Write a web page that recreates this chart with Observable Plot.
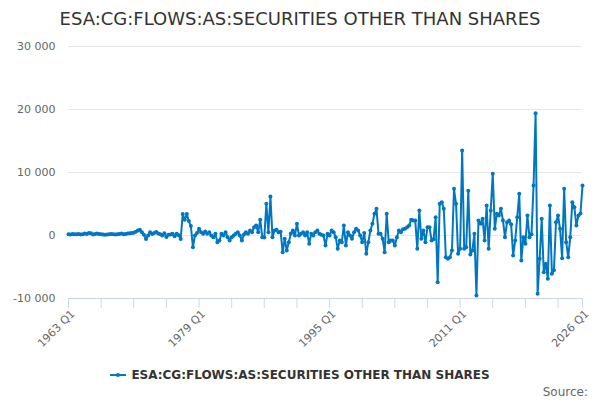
<!DOCTYPE html>
<html>
<head>
<meta charset="utf-8">
<script src="https://cdn.jsdelivr.net/npm/d3@7"></script>
<script src="https://cdn.jsdelivr.net/npm/@observablehq/plot@0.6"></script>
<style>
  html, body { margin: 0; padding: 0; background: #fff; }
  #wrap { position: relative; width: 600px; height: 400px; font-family: "DejaVu Sans", sans-serif; overflow: hidden; }
  #title { position: absolute; top: 10px; left: 0; width: 600px; text-align: center; font-size: 18px; line-height: 18px; color: #333; }
  #chart { position: absolute; top: 0; left: 0; }
  #legend { position: absolute; top: 368px; left: 0; width: 600px; text-align: center; font-size: 12px; line-height: 14px; font-weight: bold; color: #333; white-space: nowrap; }
  #legend svg { vertical-align: middle; margin-right: 5px; position: relative; top: -1px; }
  #source { position: absolute; top: 385px; right: 12px; font-size: 12px; line-height: 14px; color: #666; }
</style>
</head>
<body>
<div id="wrap">
  <div id="title"></div>
  <div id="chart"></div>
  <div id="legend"></div>
  <div id="source"></div>
</div>
<script>
const seriesName = "ESA:CG:FLOWS:AS:SECURITIES OTHER THAN SHARES";
const sourceText = "Source:";
const startYear = 1963;

// Quarterly values, 1963 Q1 ... 2026 Q1
const values = [
  200,150,250,200,180,220,150,200,300,250,400,350,150,250,300,250,200,150,100,150,200,250,200,150,200,250,300,200,250,300,350,400,450,600,
  800,900,500,100,-550,0,500,250,400,550,300,200,0,350,-250,100,160,265,-100,265,50,-550,
  3400,2500,3400,2300,1500,-1850,0,400,1058,529,265,635,265,529,0,-265,265,-1058,-794,265,0,529,-265,-794,-265,0,265,529,0,-794,159,529,265,794,529,1323,1587,529,
  2486,-265,-300,5026,500,6190,-265,794,900,529,600,-2645,-529,-2380,-1058,300,794,0,1852,0,
  265,529,0,529,-1323,265,0,529,794,265,100,0,-1587,265,0,794,529,-265,-2116,-800,-1058,1587,-1587,529,0,-529,529,1058,794,0,-1058,400,-2910,-1058,794,1852,3439,4232,265,265,-500,-2645,3439,
  -1058,-794,-800,-1587,-265,794,529,1000,1058,1323,1587,2486,2380,2380,-2116,3968,
  -529,794,-1058,1323,1323,-794,-600,2910,
  -7407,5026,5291,4232,-3439,-3700,-3439,-2380,7407,5026,-2910,-2116,13500,-2116,-1852,7100,-3000,-2380,265,
  -9522,2380,1852,2645,-794,4761,-2116,3968,9788,1058,
  3439,3174,4232,2400,-265,2116,2380,1800,-3174,-794,2910,6614,-3968,-265,
  -1323,3174,-265,200,7935,19410,
  -9258,-3703,2645,-5819,-4497,-6878,4761,
  -6084,-5500,2116,3174,1058,-3600,7407,-1058,-3439,-265,5291,4497,1587,3174,3500,7935
];

const tickYears = [1963,1967,1971,1975,1979,1983,1987,1991,1995,1999,2003,2007,2011,2015,2019,2023,2026];
const labelYears = [1963,1979,1995,2011,2026];
const tickLabels = ["1963 Q1","1979 Q1","1995 Q1","2011 Q1","2026 Q1"];
const yTicks = [-10000,0,10000,20000,30000];
const gridTicks = [0,10000,20000,30000];

const lineColor = "#0077c0";

const data = values.map((v, i) => ({t: startYear + i / 4, v}));
const labelData = labelYears.map((y, i) => ({t: y, label: tickLabels[i]}));

const fmt = d => (d < 0 ? "-" : "") + String(Math.abs(d)).replace(/\B(?=(\d{3})+(?!\d))/g, " ");

const chart = Plot.plot({
  width: 600,
  height: 360,
  marginTop: 46,
  marginBottom: 62,
  marginLeft: 68,
  marginRight: 18,
  style: {fontFamily: "DejaVu Sans, sans-serif", background: "transparent"},
  x: {domain: [1963, 2026]},
  y: {domain: [-10000, 30000]},
  marks: [
    Plot.gridY(gridTicks, {stroke: "#e6e6e6", strokeOpacity: 1}),
    Plot.ruleY([-10000], {stroke: "#ccd6eb", strokeWidth: 1}),
    Plot.axisX(tickYears, {tickSize: 10, stroke: "#ccd6eb", tickFormat: () => "", label: null}),
    Plot.axisY(yTicks, {tickSize: 0, tickPadding: 13, tickFormat: fmt, fill: "#666", fontSize: 11, label: null}),
    Plot.text(labelData, {x: "t", text: "label", frameAnchor: "bottom", rotate: -45, textAnchor: "end", dx: 7, dy: 16, fill: "#666", fontSize: 11}),
    Plot.line(data, {x: "t", y: "v", stroke: lineColor, strokeWidth: 2}),
    Plot.dot(data, {x: "t", y: "v", r: 2, fill: lineColor, stroke: "none"})
  ]
});
document.getElementById("chart").appendChild(chart);

document.getElementById("title").textContent = seriesName;
document.getElementById("legend").innerHTML =
  `<svg width="16" height="10"><line x1="0" y1="5" x2="16" y2="5" stroke="${lineColor}" stroke-width="2"/><circle cx="8" cy="5" r="2" fill="${lineColor}"/></svg>`;
document.getElementById("legend").appendChild(document.createTextNode(seriesName));
document.getElementById("source").textContent = sourceText;
</script>
</body>
</html>
